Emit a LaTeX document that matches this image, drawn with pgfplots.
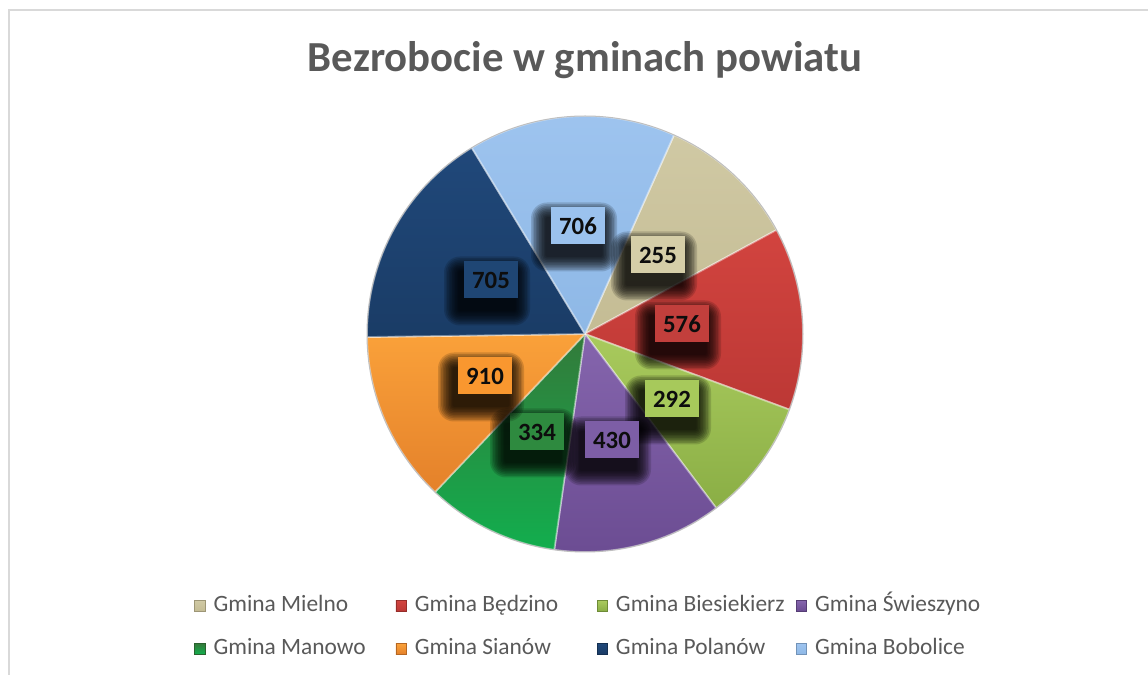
\documentclass[border=0pt]{standalone}
\usepackage{pgfplots}
\pgfplotsset{compat=1.18}
\usepackage{fontspec}
\setmainfont{Carlito}

\definecolor{cMiel}{HTML}{D0C9A4}
\definecolor{cMielB}{HTML}{C4BC94}
\definecolor{cBedz}{HTML}{D2443F}
\definecolor{cBedzB}{HTML}{BC3835}
\definecolor{cBies}{HTML}{A9CA5D}
\definecolor{cBiesB}{HTML}{8AAE45}
\definecolor{cSwie}{HTML}{8565AD}
\definecolor{cSwieB}{HTML}{6B4C92}
\definecolor{cMano}{HTML}{337A3A}
\definecolor{cManoB}{HTML}{12AE4E}
\definecolor{cSian}{HTML}{FAA13A}
\definecolor{cSianB}{HTML}{E4812A}
\definecolor{cPola}{HTML}{20487A}
\definecolor{cPolaB}{HTML}{1A3C66}
\definecolor{cBobo}{HTML}{9EC4EF}
\definecolor{cBoboB}{HTML}{8EB8E6}
% label box colours
\definecolor{lMiel}{HTML}{D5CEA8}
\definecolor{lBedz}{HTML}{C23F3C}
\definecolor{lBies}{HTML}{A7C95B}
\definecolor{lSwie}{HTML}{7D5EA6}
\definecolor{lMano}{HTML}{2E8A3F}
\definecolor{lSian}{HTML}{F9972F}
\definecolor{lPola}{HTML}{1F4674}
\definecolor{lBobo}{HTML}{9BC2EE}
\definecolor{titlegray}{HTML}{595959}
\definecolor{framegray}{HTML}{D9D9D9}

% slice: #1 start angle (clockwise from 12 o'clock), #2 end angle, #3 top colour, #4 bottom colour
\newcommand{\slice}[4]{%
  \path[top color=#3, bottom color=#4, draw=white, draw opacity=0.4, line width=0.9pt, line join=round]
    (axis cs:585,341) -- ++({90-#1}:109pt) arc[start angle={90-#1}, end angle={90-#2}, radius=109pt] -- cycle;}
% one soft shadow layer: #1 x, #2 y, #3 extra size (pt)
\newcommand{\shlayer}[3]{%
  \node[fill=black, fill opacity=0.15, draw=none, inner sep=0pt, rounded corners=#3pt,
    minimum width={27pt+2*#3pt}, minimum height={18.5pt+2*#3pt}, xshift=-2pt, yshift=-5.5pt] at (axis cs:#1,#2) {};}
% data label: #1 x, #2 y (pixels), #3 colour, #4 value
\newcommand{\dlabel}[4]{%
  \shlayer{#1}{#2}{8}\shlayer{#1}{#2}{7.2}\shlayer{#1}{#2}{6.4}\shlayer{#1}{#2}{5.6}\shlayer{#1}{#2}{4.8}%
  \shlayer{#1}{#2}{4}\shlayer{#1}{#2}{3.2}\shlayer{#1}{#2}{2.4}\shlayer{#1}{#2}{1.6}\shlayer{#1}{#2}{0.8}%
  \node[fill=#3, text=black!95, font=\fontsize{12.4}{14}\selectfont\bfseries, minimum width=27pt, minimum height=18.5pt, inner sep=0pt]
    at (axis cs:#1,#2) {#4};}

\begin{document}
\begin{tikzpicture}
\begin{axis}[
  x=0.5pt, y=0.5pt, xmin=0, xmax=1148, ymin=0, ymax=675,
  scale only axis, hide axis, clip=false,
  legend columns=4,
  legend image code/.code={\path[#1] (0pt,-2.6pt) rectangle (5.2pt,2.6pt);},
  legend style={at={(axis cs:194,80)}, anchor=north west, draw=none, fill=none,
    inner sep=0pt, row sep=11pt,
    font=\fontsize{11.7}{13}\selectfont, text=titlegray,
    nodes={inner sep=0pt, text height=8pt, text depth=2.5pt},
    /tikz/every odd column/.append style={column sep=4pt}},
  legend cell align=left,
]
% frame
\draw[framegray, line width=1pt] (axis cs:8.5,0) -- (axis cs:8.5,664.5) -- (axis cs:1148,664.5);
% title
\node[anchor=base, font=\fontsize{21.4}{25}\selectfont\bfseries, text=titlegray] at (axis cs:585,603) {Bezrobocie w gminach powiatu};

% pie slices (clockwise from 12 o'clock)
\slice{24.1}{61.5}{cMiel}{cMielB}
\slice{61.5}{110.3}{cBedz}{cBedzB}
\slice{110.3}{143.0}{cBies}{cBiesB}
\slice{143.0}{188.1}{cSwie}{cSwieB}
\slice{188.1}{223.5}{cMano}{cManoB}
\slice{223.5}{269.2}{cSian}{cSianB}
\slice{269.2}{328.7}{cPola}{cPolaB}
\slice{328.7}{384.1}{cBobo}{cBoboB}
\draw[black!25, line width=0.5pt] (axis cs:585,341) circle[radius=109pt];

% data labels
\dlabel{658}{420}{lMiel}{255}
\dlabel{682}{351}{lBedz}{576}
\dlabel{672}{276}{lBies}{292}
\dlabel{612}{235}{lSwie}{430}
\dlabel{537}{243}{lMano}{334}
\dlabel{485}{299}{lSian}{910}
\dlabel{491}{395}{lPola}{705}
\dlabel{578}{449}{lBobo}{706}

% legend
\addlegendimage{top color=cMiel, bottom color=cMielB, draw=cMielB!80!black}
\addlegendentry{\makebox[91pt][l]{Gmina Mielno}}
\addlegendimage{top color=cBedz, bottom color=cBedzB, draw=cBedzB!80!black}
\addlegendentry{\makebox[91pt][l]{Gmina Będzino}}
\addlegendimage{top color=cBies, bottom color=cBiesB, draw=cBiesB!80!black}
\addlegendentry{\makebox[90pt][l]{Gmina Biesiekierz}}
\addlegendimage{top color=cSwie, bottom color=cSwieB, draw=cSwieB!80!black}
\addlegendentry{Gmina Świeszyno}
\addlegendimage{top color=cMano, bottom color=cManoB, draw=cMano!80!black}
\addlegendentry{\makebox[91pt][l]{Gmina Manowo}}
\addlegendimage{top color=cSian, bottom color=cSianB, draw=cSianB!80!black}
\addlegendentry{\makebox[91pt][l]{Gmina Sianów}}
\addlegendimage{top color=cPola, bottom color=cPolaB, draw=cPolaB!80!black}
\addlegendentry{\makebox[90pt][l]{Gmina Polanów}}
\addlegendimage{top color=cBobo, bottom color=cBoboB, draw=cBoboB!80!black}
\addlegendentry{Gmina Bobolice}
\end{axis}
\pgfresetboundingbox
\path[use as bounding box] (0,0) rectangle (574pt,337.5pt);
\end{tikzpicture}
\end{document}
